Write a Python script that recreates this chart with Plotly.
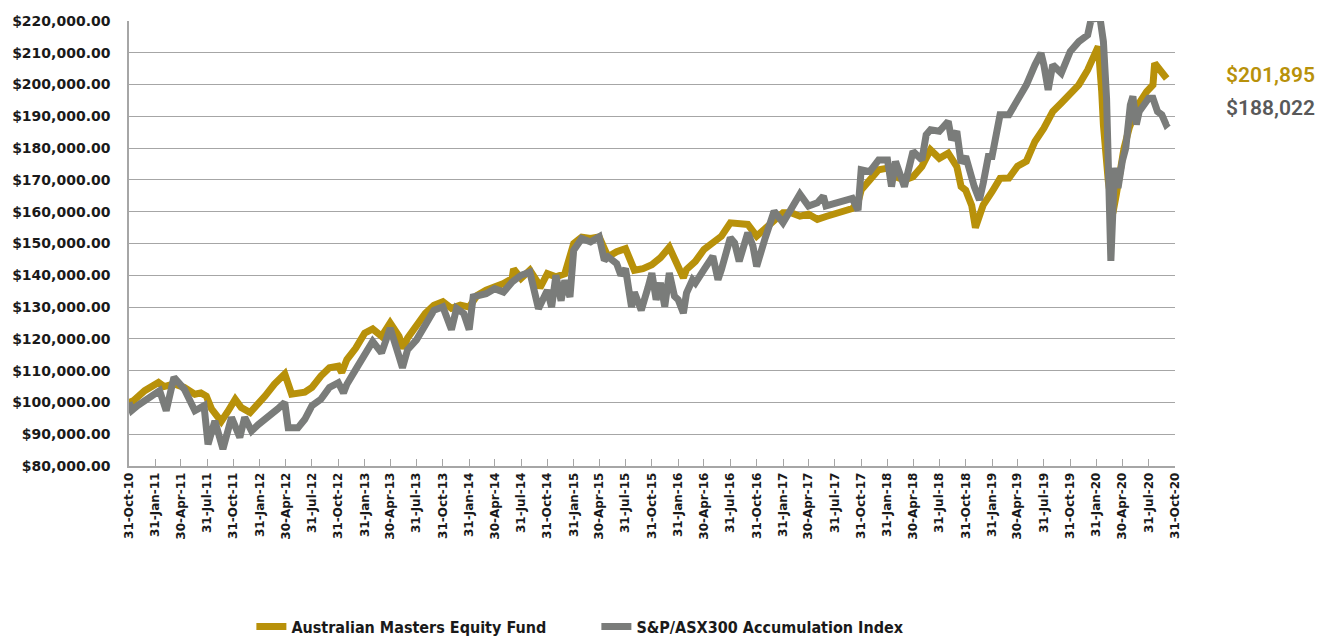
import pandas as pd
import plotly.graph_objects as go

# ---------------- data (values in $ thousands) ----------------
fund_dates = [
    "2010-10-31", "2010-11-15", "2010-12-25", "2011-02-11", "2011-03-03", "2011-04-06", "2011-05-12",
    "2011-06-18", "2011-07-09", "2011-07-28", "2011-08-15", "2011-09-18", "2011-10-10", "2011-11-06",
    "2011-11-27", "2011-12-28", "2012-02-18", "2012-03-22", "2012-04-27", "2012-05-21", "2012-07-06",
    "2012-07-31", "2012-08-31", "2012-09-30", "2012-10-31", "2012-11-12", "2012-11-30", "2012-12-31",
    "2013-01-31", "2013-02-28", "2013-03-31", "2013-04-30", "2013-05-31", "2013-06-15", "2013-06-30",
    "2013-07-31", "2013-08-31", "2013-09-30", "2013-10-31", "2013-11-30", "2013-12-31", "2014-01-31",
    "2014-02-28", "2014-03-31", "2014-04-30", "2014-05-31", "2014-06-30", "2014-07-05", "2014-07-31",
    "2014-08-31", "2014-09-30", "2014-10-05", "2014-10-31", "2014-11-30", "2014-12-31", "2015-01-31",
    "2015-02-28", "2015-03-31", "2015-04-30", "2015-05-31", "2015-06-30", "2015-07-31", "2015-08-31",
    "2015-09-30", "2015-10-31", "2015-11-30", "2015-12-31", "2016-01-31", "2016-02-18", "2016-02-29",
    "2016-03-31", "2016-04-30", "2016-05-31", "2016-06-30", "2016-07-31", "2016-08-31", "2016-09-30",
    "2016-10-31", "2016-11-30", "2016-12-31", "2017-01-31", "2017-02-28", "2017-03-31", "2017-04-30",
    "2017-05-31", "2017-06-30", "2017-07-31", "2017-08-31", "2017-09-30", "2017-10-20", "2017-10-31",
    "2017-11-30", "2017-12-31", "2018-01-31", "2018-02-28", "2018-03-31", "2018-04-30", "2018-05-31",
    "2018-06-30", "2018-07-31", "2018-08-31", "2018-09-30", "2018-10-15", "2018-10-31", "2018-11-21",
    "2018-12-04", "2018-12-31", "2019-01-31", "2019-02-28", "2019-03-31", "2019-04-30", "2019-05-31",
    "2019-06-30", "2019-07-31", "2019-08-31", "2019-09-30", "2019-10-31", "2019-11-30", "2019-12-31",
    "2020-01-31", "2020-02-06", "2020-02-18", "2020-02-24", "2020-03-12", "2020-03-25", "2020-03-28",
    "2020-04-09", "2020-04-24", "2020-05-06", "2020-05-24", "2020-06-24", "2020-07-24", "2020-08-15",
    "2020-08-21", "2020-09-06", "2020-09-21", "2020-10-02",
]
fund_values = [
    100.0, 100.5, 103.7, 106.3, 105.0, 105.8, 104.7,
    102.6, 103.0, 102.0, 98.0, 94.0, 97.0, 101.0,
    98.4, 96.8, 102.0, 105.8, 109.0, 102.6, 103.2,
    104.7, 108.3, 110.9, 111.4, 109.4, 113.5, 117.1,
    121.8, 123.1, 120.8, 125.0, 120.8, 117.0, 120.3,
    124.4, 128.0, 130.6, 131.7, 129.6, 130.6, 130.0,
    133.7, 135.3, 136.3, 137.4, 139.0, 142.0, 139.0,
    141.6, 137.4, 136.0, 140.5, 139.5, 140.5, 150.0,
    152.0, 151.6, 152.1, 145.8, 147.4, 148.4, 141.6,
    142.1, 143.3, 145.5, 148.8, 141.8, 139.2, 141.8,
    144.4, 148.1, 150.2, 152.3, 156.5, 156.0, 156.0,
    152.3, 154.9, 157.0, 159.7, 159.7, 158.6, 159.2,
    157.6, 158.5, 159.5, 160.0, 161.0, 163.0, 166.8,
    170.0, 173.2, 173.7, 171.0, 170.0, 171.0, 174.2,
    179.5, 176.8, 178.4, 174.2, 167.9, 166.8, 162.0,
    155.0, 162.1, 166.3, 170.5, 170.6, 174.3, 175.9,
    182.1, 186.3, 191.5, 194.2, 197.3, 199.9, 204.6,
    211.4, 212.0, 197.8, 187.3, 169.6, 161.2, 159.6,
    165.4, 174.8, 180.0, 186.3, 193.6, 197.8, 199.9,
    206.7, 205.1, 203.6, 201.9,
]

index_dates = [
    "2010-10-31", "2010-11-10", "2010-11-30", "2010-12-25", "2011-01-20", "2011-02-15", "2011-03-10",
    "2011-04-06", "2011-05-12", "2011-06-18", "2011-07-20", "2011-08-03", "2011-08-27", "2011-09-24",
    "2011-10-24", "2011-11-22", "2011-12-09", "2012-01-02", "2012-01-25", "2012-02-29", "2012-04-03",
    "2012-04-27", "2012-05-09", "2012-06-12", "2012-07-06", "2012-07-31", "2012-08-31", "2012-09-30",
    "2012-10-31", "2012-11-18", "2012-11-30", "2012-12-31", "2013-01-31", "2013-02-28", "2013-03-31",
    "2013-04-30", "2013-05-31", "2013-06-12", "2013-06-30", "2013-07-31", "2013-08-31", "2013-09-30",
    "2013-10-31", "2013-11-30", "2013-12-18", "2014-01-12", "2014-01-31", "2014-02-14", "2014-02-28",
    "2014-03-31", "2014-04-30", "2014-05-31", "2014-06-30", "2014-07-31", "2014-08-31", "2014-09-30",
    "2014-10-31", "2014-11-15", "2014-11-30", "2014-12-18", "2014-12-31", "2015-01-18", "2015-01-31",
    "2015-02-28", "2015-03-31", "2015-04-30", "2015-05-18", "2015-05-31", "2015-06-30", "2015-07-15",
    "2015-07-31", "2015-08-21", "2015-08-31", "2015-09-24", "2015-10-18", "2015-10-31", "2015-11-15",
    "2015-11-30", "2015-12-15", "2015-12-31", "2016-01-18", "2016-01-31", "2016-02-18", "2016-02-29",
    "2016-03-21", "2016-03-31", "2016-04-30", "2016-05-31", "2016-06-18", "2016-06-30", "2016-07-31",
    "2016-08-15", "2016-08-31", "2016-09-30", "2016-10-18", "2016-10-31", "2016-11-30", "2016-12-31",
    "2017-01-31", "2017-02-28", "2017-03-31", "2017-04-30", "2017-05-31", "2017-06-21", "2017-06-30",
    "2017-07-31", "2017-08-31", "2017-09-30", "2017-10-20", "2017-10-31", "2017-11-30", "2017-12-31",
    "2018-01-31", "2018-02-14", "2018-02-28", "2018-03-31", "2018-04-30", "2018-05-31", "2018-06-15",
    "2018-06-30", "2018-07-31", "2018-08-31", "2018-09-12", "2018-09-30", "2018-10-15", "2018-10-31",
    "2018-11-30", "2018-12-18", "2018-12-31", "2019-01-18", "2019-01-31", "2019-02-28", "2019-03-31",
    "2019-04-30", "2019-05-31", "2019-06-30", "2019-07-21", "2019-07-31", "2019-08-15", "2019-08-31",
    "2019-09-30", "2019-10-31", "2019-11-30", "2019-12-31", "2020-01-12", "2020-02-12", "2020-02-24",
    "2020-03-06", "2020-03-16", "2020-03-21", "2020-04-03", "2020-04-15", "2020-04-30", "2020-05-12",
    "2020-05-28", "2020-06-06", "2020-06-18", "2020-06-28", "2020-07-31", "2020-08-15", "2020-08-31",
    "2020-09-15", "2020-09-30", "2020-10-08",
]
index_values = [
    100.0, 97.5, 99.0, 100.5, 102.0, 103.7, 97.4,
    107.9, 104.2, 97.4, 99.0, 86.8, 94.2, 85.3,
    95.3, 89.0, 95.3, 91.0, 93.0, 95.3, 98.0,
    100.0, 92.0, 92.0, 94.7, 99.0, 101.0, 104.7,
    106.2, 103.0, 105.7, 110.4, 115.0, 119.2, 115.6,
    123.4, 114.5, 110.9, 116.6, 119.7, 124.4, 129.0,
    130.1, 122.9, 129.6, 128.0, 122.9, 133.2, 133.5,
    134.2, 135.8, 134.7, 137.9, 140.0, 141.0, 129.5,
    135.3, 130.0, 140.0, 132.0, 138.4, 133.2, 147.9,
    151.6, 150.5, 152.1, 144.7, 145.8, 143.7, 140.0,
    142.1, 130.0, 134.7, 129.0, 136.3, 140.7, 132.3,
    137.6, 130.2, 140.7, 133.4, 132.3, 128.1, 134.4,
    138.6, 137.6, 141.8, 146.0, 138.6, 141.8, 151.8,
    150.2, 144.4, 153.4, 149.2, 142.8, 151.8, 160.2,
    156.5, 161.3, 165.5, 161.8, 162.8, 164.9, 161.8,
    162.6, 163.2, 164.2, 160.5, 173.2, 172.6, 176.3,
    176.3, 167.9, 175.8, 167.9, 179.0, 176.3, 184.2,
    185.8, 185.3, 188.4, 182.6, 185.3, 175.3, 177.4,
    167.9, 163.7, 168.9, 177.4, 177.4, 190.5, 190.5,
    194.7, 199.9, 206.2, 209.9, 206.2, 198.3, 206.2,
    203.6, 210.4, 213.5, 215.6, 220.5, 221.0, 213.5,
    195.7, 159.1, 144.5, 173.8, 167.5, 175.9, 180.0,
    193.6, 196.3, 187.4, 191.5, 195.7, 195.7, 191.5,
    190.5, 187.4, 188.0,
]

series_names = ["Australian Masters Equity Fund", "S&P/ASX300 Accumulation Index"]
final_labels = ["$201,895", "$188,022"]

tick_labels = [
    "31-Oct-10", "31-Jan-11", "30-Apr-11", "31-Jul-11", "31-Oct-11", "31-Jan-12", "30-Apr-12",
    "31-Jul-12", "31-Oct-12", "31-Jan-13", "30-Apr-13", "31-Jul-13", "31-Oct-13", "31-Jan-14",
    "30-Apr-14", "31-Jul-14", "31-Oct-14", "31-Jan-15", "30-Apr-15", "31-Jul-15", "31-Oct-15",
    "31-Jan-16", "30-Apr-16", "31-Jul-16", "31-Oct-16", "31-Jan-17", "30-Apr-17", "31-Jul-17",
    "31-Oct-17", "31-Jan-18", "30-Apr-18", "31-Jul-18", "31-Oct-18", "31-Jan-19", "30-Apr-19",
    "31-Jul-19", "31-Oct-19", "31-Jan-20", "30-Apr-20", "31-Jul-20", "31-Oct-20",
]

# ---------------- styling ----------------
GOLD = "#B8910A"
GREY = "#7A7C7A"
GRID = "#A6A6A6"

tick_dates = pd.to_datetime(tick_labels, format="%d-%b-%y")

fig = go.Figure()
fig.add_trace(go.Scatter(
    x=pd.to_datetime(fund_dates), y=[v * 1000 for v in fund_values],
    mode="lines", name=series_names[0],
    line=dict(color=GOLD, width=7),
))
fig.add_trace(go.Scatter(
    x=pd.to_datetime(index_dates), y=[v * 1000 for v in index_values],
    mode="lines", name=series_names[1],
    line=dict(color=GREY, width=7),
))

fig.update_layout(
    width=1324, height=638,
    margin=dict(l=129, r=149, t=21, b=172, autoexpand=False),
    paper_bgcolor="white", plot_bgcolor="white",
    showlegend=True,
    legend=dict(
        orientation="h", x=0.117, xanchor="left",
        yref="container", y=0.018, yanchor="middle",
        font=dict(family="Liberation Sans Narrow, DejaVu Sans Condensed, Arial Narrow, sans-serif",
                  size=16, color="#1a1a1a", weight="bold"),
        entrywidth=300, entrywidthmode="pixels",
        bgcolor="rgba(0,0,0,0)",
    ),
    annotations=[
        dict(xref="paper", yref="paper", x=1.047, y=0.879, xanchor="left", yanchor="middle",
             text=final_labels[0], showarrow=False,
             font=dict(family="Roboto, sans-serif", size=21, color=GOLD, weight=600)),
        dict(xref="paper", yref="paper", x=1.047, y=0.805, xanchor="left", yanchor="middle",
             text=final_labels[1], showarrow=False,
             font=dict(family="Roboto, sans-serif", size=21, color="#595959", weight=600)),
    ],
)

fig.update_xaxes(
    type="date",
    range=[tick_dates[0], tick_dates[-1]],
    tickmode="array", tickvals=tick_dates, ticktext=tick_labels,
    tickangle=-90,
    tickfont=dict(family="DejaVu Sans, Verdana, sans-serif", size=12, color="#1a1a1a", weight="bold"),
    ticks="inside", ticklen=7, tickcolor=GRID, tickwidth=1.3,
    showline=True, linecolor=GRID, linewidth=1.5,
    showgrid=False, zeroline=False,
)
fig.update_yaxes(
    range=[80000, 220000], dtick=10000, tick0=80000,
    tickformat="$,.2f",
    tickfont=dict(family="DejaVu Sans, Verdana, sans-serif", size=14, color="#1a1a1a", weight="bold"),
    ticks="", ticklabelstandoff=14,
    showline=True, linecolor=GRID, linewidth=1.5,
    showgrid=True, gridcolor=GRID, gridwidth=1.3,
    zeroline=False,
)

fig.write_html(
    "out.html",
    config={"displayModeBar": False},
    post_script="document.body.style.margin='0px';document.body.style.overflow='hidden';",
)
